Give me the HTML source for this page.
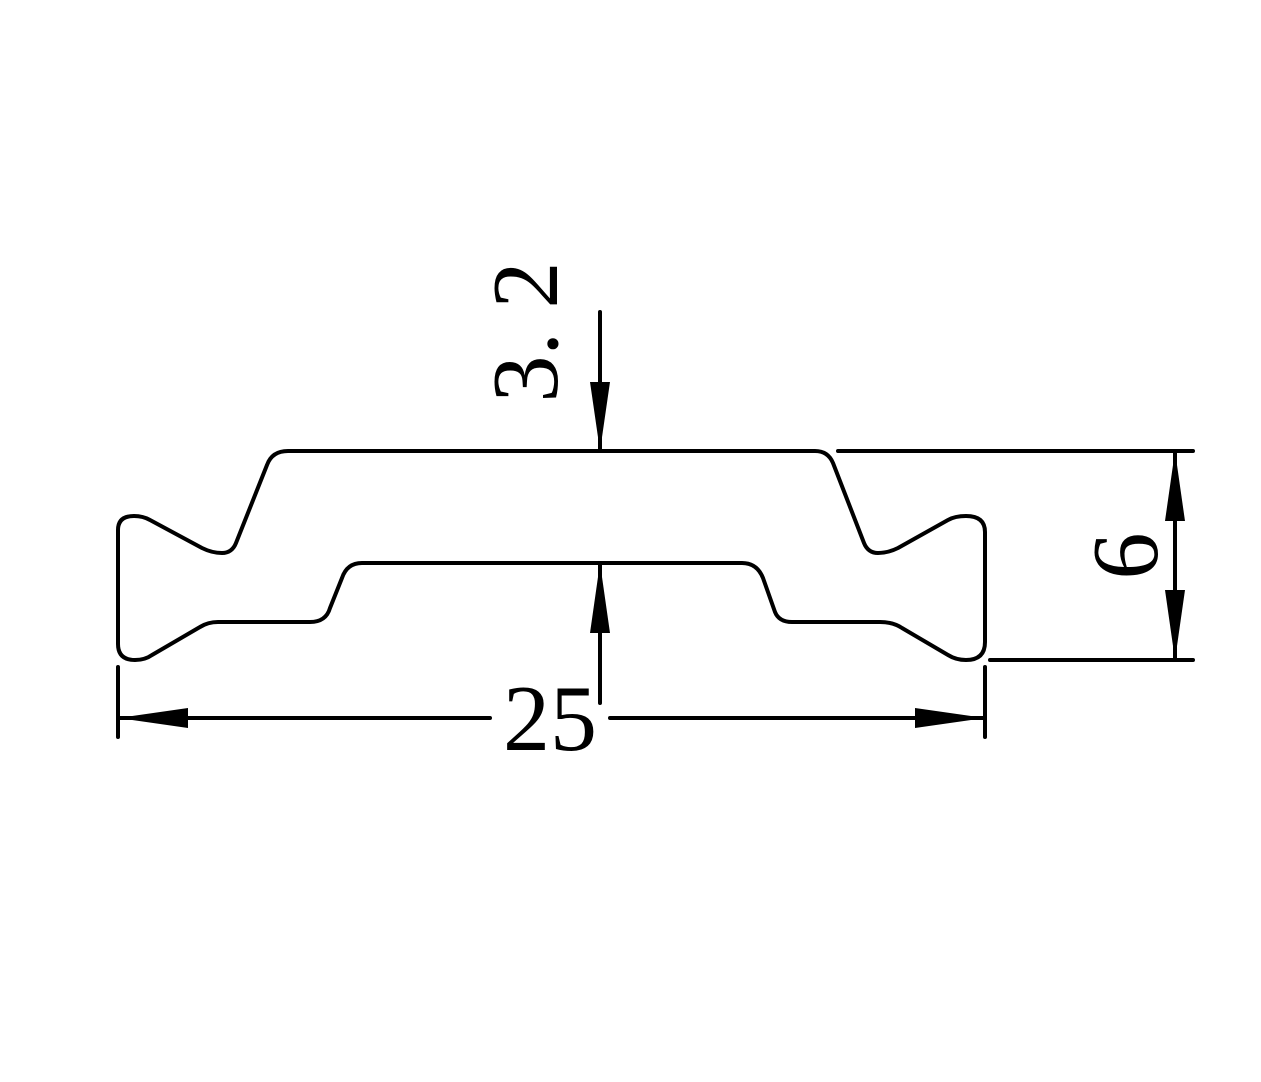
<!DOCTYPE html>
<html><head><style>body{margin:0;background:#fff}svg{display:block}</style></head>
<body>
<svg width="1261" height="1082" viewBox="0 0 1261 1082" xmlns="http://www.w3.org/2000/svg">
<rect width="1261" height="1082" fill="#fff"/>
<g fill="none" stroke="#000" stroke-width="4" stroke-linecap="round" stroke-linejoin="round">
<path d="M118 530 Q118 516 134 516 Q143 516 150 520 L202 548 Q212 553 222 553 Q232 553 236 543 L267 465 Q272 451 288 451 L815 451 Q828 451 833 463 L864 543 Q868 553 878 553 Q888 553 898 548 L948 520 Q955 516 966 516 Q985 516 985 532 L985 642 Q985 660 966 660 Q956 660 948 655 L902 628 Q893 622 880 622 L792 622 Q779 622 775 612 L763 578 Q757 563 742 563 L362 563 Q347 563 342 578 L330 608 Q326 622 310 622 L218 622 Q208 622 200 627 L152 655 Q145 660 135 660 Q118 660 118 644 Z"/>
<path d="M118 667 L118 737 M985 667 L985 737 M118 718 L490 718 M610 718 L985 718"/>
<path d="M600 312 L600 451 M600 563 L600 703"/>
<path d="M838 451 L1193 451 M990 660 L1193 660 M1175 451 L1175 660"/>
</g>
<g fill="#000">
<polygon points="118,718 188,708 188,728"/>
<polygon points="985,718 915,708 915,728"/>
<polygon points="600,451 590,382 610,382"/>
<polygon points="600,563 590,633 610,633"/>
<polygon points="1175,451 1165,521 1185,521"/>
<polygon points="1175,660 1165,590 1185,590"/>
</g>
<g font-family="'Liberation Serif',serif" font-size="94" fill="#000">
<text x="550" y="750" text-anchor="middle">25</text>
<text transform="translate(557,332) rotate(-90)" text-anchor="middle">3. 2</text>
<text transform="translate(1157,556) rotate(-90)" text-anchor="middle">6</text>
</g>
</svg>
</body></html>
